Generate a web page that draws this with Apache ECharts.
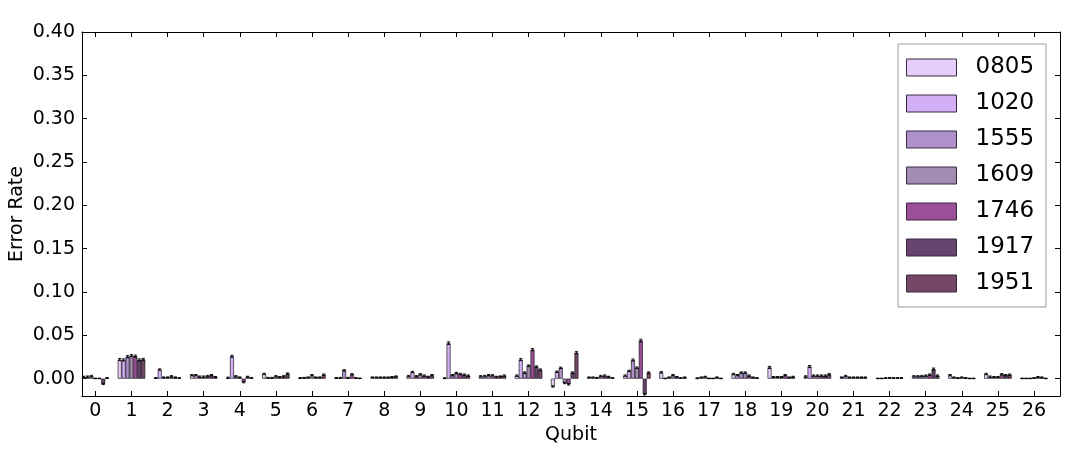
<!DOCTYPE html>
<html><head><meta charset="utf-8">
<script src="https://cdn.jsdelivr.net/npm/echarts@6/dist/echarts.min.js"></script>
<style>html,body{margin:0;padding:0;background:#fff}#c{width:1066px;height:452px}</style>
</head><body><div id="c"></div>
<script>
const qubits = [0,1,2,3,4,5,6,7,8,9,10,11,12,13,14,15,16,17,18,19,20,21,22,23,24,25,26];
const yTicks = [0,0.05,0.10,0.15,0.20,0.25,0.30,0.35,0.40];
const seriesNames = ['0805','1020','1555','1609','1746','1917','1951'];
const colors = ['#e6cdfa','#d3aff6','#ae90cb','#a48bb1','#9a4f98','#67456f','#744767'];
const s0805 = [0.002,0.022,0.0008,0.004,0.001,0.0055,0.0008,0.0008,0.0015,0.003,0.0005,0.0027,0.0035,-0.009,0.0015,0.0035,0.0073,0.0005,0.0054,0.013,0.0025,0.0015,0.0003,0.0027,0.004,0.0054,0.0003];
const s1020 = [0.0023,0.0216,0.0105,0.004,0.0258,0.001,0.001,0.001,0.0015,0.0077,0.041,0.003,0.022,0.008,0.0015,0.009,0.0003,0.0015,0.004,0.002,0.014,0.003,0.0003,0.0027,0.0015,0.0023,0.0003];
const s1555 = [0.003,0.0254,0.0015,0.0023,0.0027,0.001,0.0015,0.0096,0.0015,0.0027,0.004,0.004,0.007,0.0125,0.001,0.0215,0.0015,0.0023,0.007,0.002,0.0035,0.0015,0.0008,0.003,0.0008,0.002,0.0003];
const s1609 = [0.0003,0.0266,0.0015,0.0023,0.0015,0.0027,0.004,0.001,0.0015,0.005,0.0065,0.0038,0.015,-0.005,0.003,0.0127,0.004,0.0003,0.007,0.002,0.0035,0.0015,0.001,0.0035,0.0015,0.002,0.0008];
const s1746 = [0.0003,0.026,0.0027,0.003,-0.004,0.002,0.0015,0.005,0.0015,0.0035,0.0054,0.0023,0.0335,-0.0065,0.0035,0.044,0.002,0.0003,0.0035,0.004,0.0035,0.0015,0.0008,0.0046,0.0008,0.005,0.002];
const s1917 = [-0.006,0.0216,0.0015,0.004,0.0023,0.0027,0.0015,0.0008,0.002,0.0023,0.0046,0.0027,0.0139,0.007,0.0023,-0.018,0.0008,0.0015,0.0015,0.0015,0.0035,0.0015,0.0008,0.011,0.0003,0.004,0.0015];
const s1951 = [0.0008,0.0223,0.0008,0.002,0.0008,0.0058,0.0046,0.0004,0.0027,0.004,0.0035,0.0035,0.0104,0.030,0.0008,0.007,0.0015,0.0003,0.0008,0.0023,0.005,0.0015,0.001,0.0035,0.0003,0.0046,0.0003];
const e0805 = [0.0008,0.0012,0.0005,0.0008,0.0008,0.0008,0.0005,0.0005,0.0005,0.0008,0.0005,0.0008,0.0008,0.0008,0.0005,0.0008,0.0008,0.0005,0.0008,0.0012,0.0008,0.0005,0.0003,0.0008,0.0008,0.0008,0.0003];
const e1020 = [0.0008,0.0012,0.0008,0.0008,0.0012,0.0005,0.0005,0.0005,0.0005,0.0008,0.0015,0.0008,0.0012,0.0008,0.0005,0.0008,0.0003,0.0005,0.0008,0.0005,0.0012,0.0008,0.0003,0.0008,0.0005,0.0008,0.0003];
const e1555 = [0.0008,0.0012,0.0005,0.0008,0.0008,0.0005,0.0005,0.0008,0.0005,0.0008,0.0008,0.0008,0.0008,0.0008,0.0005,0.0012,0.0005,0.0005,0.0008,0.0005,0.0008,0.0005,0.0003,0.0008,0.0005,0.0005,0.0003];
const e1609 = [0.0003,0.0012,0.0005,0.0008,0.0005,0.0008,0.0008,0.0005,0.0005,0.0008,0.0008,0.0008,0.0008,0.0008,0.0008,0.0008,0.0008,0.0003,0.0008,0.0005,0.0008,0.0005,0.0003,0.0008,0.0005,0.0005,0.0003];
const e1746 = [0.0003,0.0012,0.0008,0.0008,0.0008,0.0005,0.0005,0.0008,0.0005,0.0008,0.0008,0.0005,0.0012,0.0008,0.0008,0.0015,0.0005,0.0003,0.0008,0.0008,0.0008,0.0005,0.0003,0.0008,0.0005,0.0008,0.0005];
const e1917 = [0.0008,0.0012,0.0005,0.0008,0.0005,0.0008,0.0005,0.0005,0.0005,0.0005,0.0008,0.0005,0.0008,0.0008,0.0005,0.0008,0.0003,0.0005,0.0005,0.0005,0.0008,0.0005,0.0003,0.0012,0.0003,0.0008,0.0005];
const e1951 = [0.0005,0.0012,0.0003,0.0005,0.0003,0.0008,0.0008,0.0003,0.0005,0.0008,0.0008,0.0008,0.0008,0.0012,0.0003,0.0008,0.0005,0.0003,0.0003,0.0005,0.0008,0.0005,0.0003,0.0008,0.0003,0.0008,0.0003];

const values = [s0805,s1020,s1555,s1609,s1746,s1917,s1951];
const errors = [e0805,e1020,e1555,e1609,e1746,e1917,e1951];

const FONT = 'DejaVu Sans';
const groupFrac = 0.76;
const barFrac = groupFrac / seriesNames.length;

const series = [];
seriesNames.forEach((name, si) => {
  series.push({
    name, type: 'bar', xAxisIndex: 0, yAxisIndex: 0,
    barGap: '0%', barCategoryGap: '24%',
    itemStyle: { color: colors[si], borderColor: '#000', borderWidth: 0.6 },
    emphasis: { disabled: true },
    data: qubits.map((q, i) => [q, values[si][i]])
  });
});
seriesNames.forEach((name, si) => {
  series.push({
    name: name + '_err', type: 'custom', xAxisIndex: 0, yAxisIndex: 0, z: 5,
    silent: true,
    encode: { x: 0, y: 1 },
    data: qubits.map((q, i) => [q, values[si][i], errors[si][i]]),
    renderItem: function (params, api) {
      const xc = api.value(0) - groupFrac / 2 + barFrac * (si + 0.5);
      const v = api.value(1), e = api.value(2);
      const top = api.coord([xc, v + e]);
      const bot = api.coord([xc, v - e]);
      const cap = 1.6;
      const st = { stroke: '#000', lineWidth: 0.9 };
      return { type: 'group', children: [
        { type: 'line', shape: { x1: top[0], y1: top[1], x2: bot[0], y2: bot[1] }, style: st },
        { type: 'line', shape: { x1: top[0]-cap, y1: top[1], x2: top[0]+cap, y2: top[1] }, style: st },
        { type: 'line', shape: { x1: bot[0]-cap, y1: bot[1], x2: bot[0]+cap, y2: bot[1] }, style: st }
      ]};
    }
  });
});

const axisLineStyle = { show: true, onZero: false, lineStyle: { color: '#000', width: 1 } };
const chart = echarts.init(document.getElementById('c'), null, { renderer: 'canvas' });
chart.setOption({
  animation: false,
  backgroundColor: '#fff',
  grid: { left: 82, top: 32, right: 6, bottom: 56, containLabel: false, outerBoundsMode: 'none' },
  legend: {
    data: seriesNames, orient: 'vertical', left: 898, top: 44,
    padding: [12, 12, 12, 8], itemWidth: 50, itemHeight: 17, itemGap: 13,
    icon: 'rect', backgroundColor: '#fff', borderColor: '#999', borderWidth: 1, borderRadius: 0,
    itemStyle: { borderColor: '#3a2a40', borderWidth: 1 },
    textStyle: { fontFamily: FONT, fontSize: 23, color: '#000', padding: [0, 0, 0, 14] },
    selectedMode: false
  },
  xAxis: [
    { type: 'value', min: -0.37, max: 26.72, position: 'bottom',
      name: 'Qubit', nameLocation: 'middle', nameGap: 30,
      nameTextStyle: { fontFamily: FONT, fontSize: 19, color: '#000' },
      axisLine: axisLineStyle, splitLine: { show: false },
      axisTick: { show: true, inside: true, length: 5, customValues: qubits, lineStyle: { color: '#000' } },
      axisLabel: { customValues: qubits, fontFamily: FONT, fontSize: 19, color: '#000', margin: 6 } },
    { type: 'value', min: -0.37, max: 26.72, position: 'top',
      axisLine: axisLineStyle, splitLine: { show: false },
      axisTick: { show: true, inside: true, length: 5, customValues: qubits, lineStyle: { color: '#000' } },
      axisLabel: { show: false } }
  ],
  yAxis: [
    { type: 'value', min: -0.02, max: 0.40, position: 'left',
      name: 'Error Rate', nameLocation: 'middle', nameGap: 55, nameMoveOverlap: false,
      nameTextStyle: { fontFamily: FONT, fontSize: 19, color: '#000' },
      axisLine: axisLineStyle, splitLine: { show: false },
      axisTick: { show: true, inside: true, length: 5, customValues: yTicks, lineStyle: { color: '#000' } },
      axisLabel: { customValues: yTicks, fontFamily: FONT, fontSize: 19, color: '#000', margin: 7,
        formatter: v => v.toFixed(2) } },
    { type: 'value', min: -0.02, max: 0.40, position: 'right',
      axisLine: axisLineStyle, splitLine: { show: false },
      axisTick: { show: true, inside: true, length: 5, customValues: yTicks, lineStyle: { color: '#000' } },
      axisLabel: { show: false } }
  ],
  series
});
</script></body></html>
